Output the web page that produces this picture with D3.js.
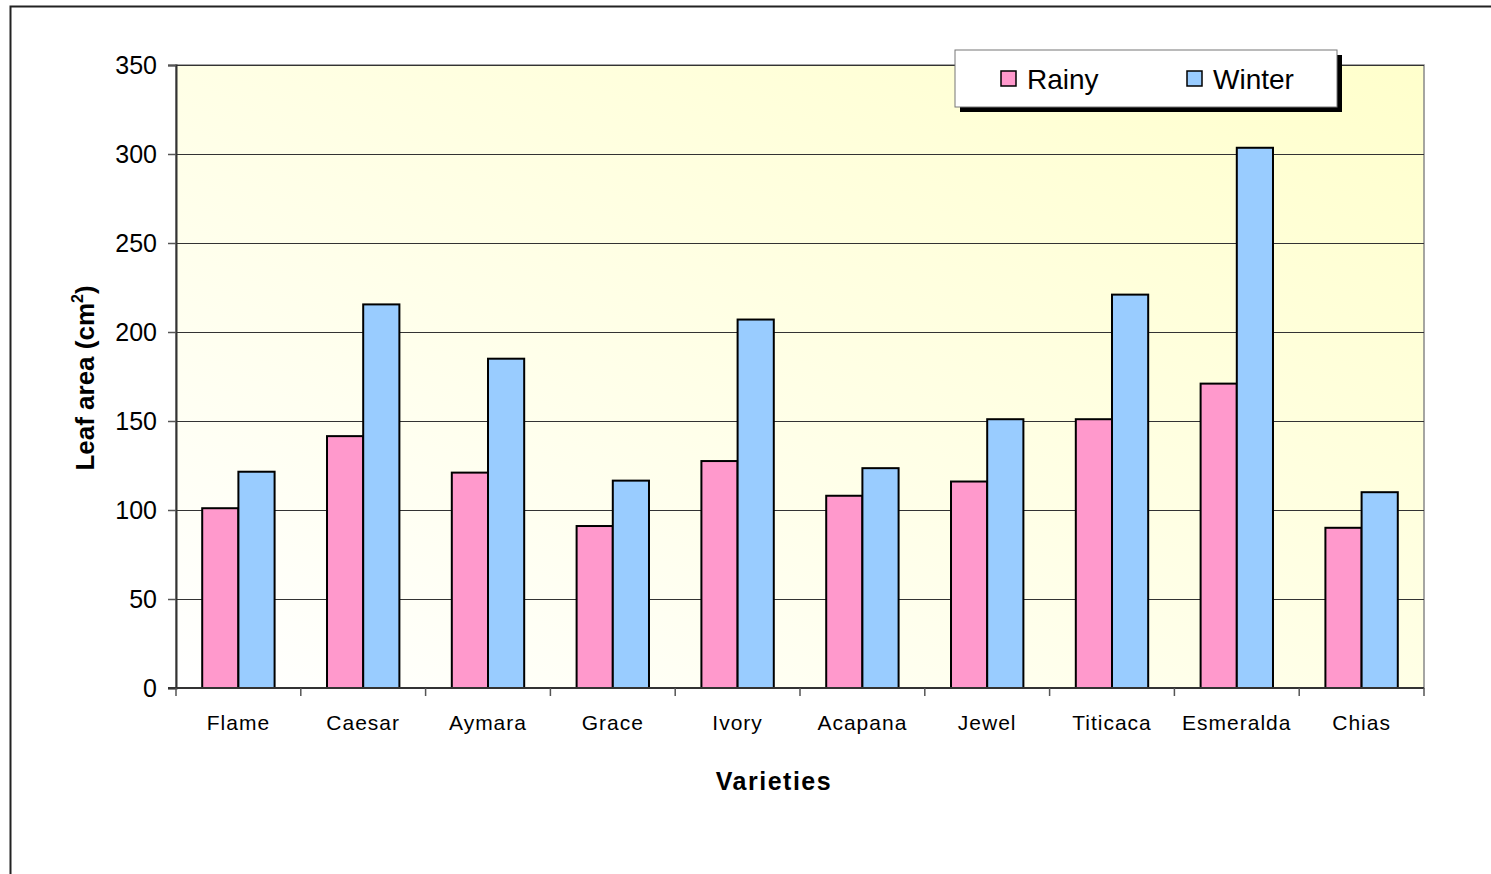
<!DOCTYPE html>
<html>
<head>
<meta charset="utf-8">
<script src="https://cdn.jsdelivr.net/npm/d3@7"></script>
<style>
  html, body { margin: 0; padding: 0; background: #fff; }
  svg { display: block; font-family: 'Liberation Sans', Arial, sans-serif; }
</style>
</head>
<body>
<div id="chart"></div>
<script>
const varieties = ['Flame', 'Caesar', 'Aymara', 'Grace', 'Ivory', 'Acapana', 'Jewel', 'Titicaca', 'Esmeralda', 'Chias']
const rainy = [101, 141.5, 121, 91, 127.5, 108, 116, 151, 171, 90]
const winter = [121.5, 215.5, 185, 116.5, 207, 123.5, 151, 221, 303.5, 110]
const seriesNames = ['Rainy', 'Winter']
const seriesColors = ['#FF99CC', '#99CCFF']
const yTicks = [0, 50, 100, 150, 200, 250, 300, 350]

const W = 1491, H = 874
const margin = { top: 65, right: 67, bottom: 186, left: 176 }
const innerW = W - margin.left - margin.right
const innerH = H - margin.top - margin.bottom

const svg = d3.select('#chart').append('svg')
  .attr('width', W)
  .attr('height', H)

// outer chart border (cut off at right and bottom)
svg.append('rect')
  .attr('x', 10.5).attr('y', 6.5)
  .attr('width', W + 20).attr('height', H + 20)
  .attr('fill', '#fff')
  .attr('stroke', '#222')
  .attr('stroke-width', 2)

const defs = svg.append('defs')
const grad = defs.append('linearGradient')
  .attr('id', 'bg')
  .attr('x1', '0%').attr('y1', '100%')
  .attr('x2', '100%').attr('y2', '0%')
grad.append('stop').attr('offset', '0%').attr('stop-color', '#FFFFFF')
grad.append('stop').attr('offset', '100%').attr('stop-color', '#FFFFCC')

const g = svg.append('g')
  .attr('transform', `translate(${margin.left},${margin.top})`)

const x0 = d3.scaleBand()
  .domain(varieties)
  .range([0, innerW])
  .paddingInner(0.42)
  .paddingOuter(0.21)

const xCat = d3.scaleBand()
  .domain(varieties)
  .range([0, innerW])

const x1 = d3.scaleBand()
  .domain(seriesNames)
  .range([0, x0.bandwidth()])

const y = d3.scaleLinear()
  .domain([0, 350])
  .range([innerH, 0])

// plot area
g.append('rect')
  .attr('x', 0).attr('y', 0)
  .attr('width', innerW).attr('height', innerH)
  .attr('fill', 'url(#bg)')
  .attr('stroke', '#888')
  .attr('stroke-width', 1.5)

// gridlines
g.selectAll('.grid')
  .data(yTicks.filter(d => d > 0))
  .join('line')
  .attr('x1', 0).attr('x2', innerW)
  .attr('y1', d => Math.round(y(d)) + 0.5)
  .attr('y2', d => Math.round(y(d)) + 0.5)
  .attr('stroke', '#333')
  .attr('stroke-width', 1)

// bars
const data = varieties.map((v, i) => ({ name: v, values: [rainy[i], winter[i]] }))
const groups = g.selectAll('.grp')
  .data(data)
  .join('g')
  .attr('transform', d => `translate(${x0(d.name)},0)`)

groups.selectAll('rect')
  .data(d => d.values.map((val, j) => ({ key: seriesNames[j], val, color: seriesColors[j] })))
  .join('rect')
  .attr('x', d => x1(d.key))
  .attr('y', d => y(d.val))
  .attr('width', x1.bandwidth())
  .attr('height', d => innerH - y(d.val))
  .attr('fill', d => d.color)
  .attr('stroke', '#000')
  .attr('stroke-width', 2)

// y axis
const yAxis = g.append('g')
  .call(d3.axisLeft(y).tickValues(yTicks).tickSize(8).tickPadding(11))
yAxis.select('.domain').attr('stroke', '#333').attr('stroke-width', 2)
yAxis.selectAll('.tick line').attr('stroke', '#555').attr('stroke-width', 1.5)
yAxis.selectAll('text')
  .attr('font-size', 25)
  .attr('fill', '#000')
  .attr('font-family', "'Liberation Sans', Arial, sans-serif")

// x axis with tick marks at category boundaries
const xAxis = g.append('g')
  .attr('transform', `translate(0,${innerH})`)
xAxis.append('line')
  .attr('x1', -8).attr('x2', innerW)
  .attr('y1', 0).attr('y2', 0)
  .attr('stroke', '#333').attr('stroke-width', 2)
const bounds = varieties.map(v => xCat(v)).concat([innerW])
xAxis.selectAll('.xt')
  .data(bounds)
  .join('line')
  .attr('x1', d => d).attr('x2', d => d)
  .attr('y1', 0).attr('y2', 8)
  .attr('stroke', '#555').attr('stroke-width', 1.5)
xAxis.selectAll('.xl')
  .data(varieties)
  .join('text')
  .attr('x', d => xCat(d) + xCat.bandwidth() / 2)
  .attr('y', 42)
  .attr('text-anchor', 'middle')
  .attr('font-size', 21)
  .attr('letter-spacing', 1)
  .attr('fill', '#000')
  .text(d => d)

// axis titles
svg.append('text')
  .attr('x', 774)
  .attr('y', 790)
  .attr('text-anchor', 'middle')
  .attr('font-size', 25)
  .attr('font-weight', 'bold')
  .attr('letter-spacing', 1.5)
  .text('Varieties')

const yt = svg.append('text')
  .attr('transform', 'translate(94,378) rotate(-90)')
  .attr('text-anchor', 'middle')
  .attr('font-size', 26)
  .attr('font-weight', 'bold')
yt.append('tspan').text('Leaf area (cm')
yt.append('tspan').attr('font-size', 16).attr('dy', -11).text('2')
yt.append('tspan').attr('dy', 11).text(')')

// legend
const lg = svg.append('g').attr('transform', 'translate(955,50)')
lg.append('rect')
  .attr('x', 5).attr('y', 5)
  .attr('width', 382).attr('height', 57)
  .attr('fill', '#000')
lg.append('rect')
  .attr('x', 0).attr('y', 0)
  .attr('width', 382).attr('height', 57)
  .attr('fill', '#fff')
  .attr('stroke', '#777')
  .attr('stroke-width', 1)
const legendX = [46, 232]
seriesNames.forEach((s, i) => {
  lg.append('rect')
    .attr('x', legendX[i]).attr('y', 21)
    .attr('width', 15).attr('height', 15)
    .attr('fill', seriesColors[i])
    .attr('stroke', '#000')
    .attr('stroke-width', 1.5)
  lg.append('text')
    .attr('x', legendX[i] + 26)
    .attr('y', 39)
    .attr('font-size', 28)
    .attr('fill', '#000')
    .text(s)
})
</script>
</body>
</html>
